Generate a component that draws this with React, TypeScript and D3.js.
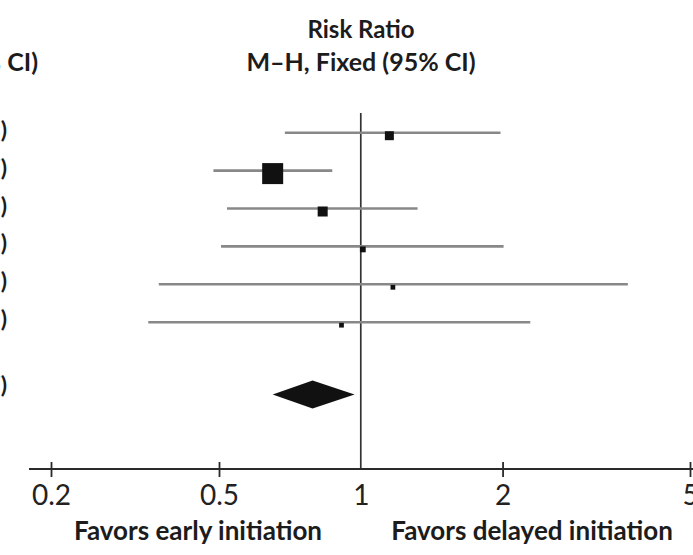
import React, { useRef, useEffect } from "react";
import * as d3 from "d3";

// Study rows (risk ratio, 95% CI, weight %)
const estimates = [1.15, 0.65, 0.83, 1.01, 1.17, 0.91];
const lowerCI = [0.69, 0.485, 0.52, 0.505, 0.36, 0.34];
const upperCI = [1.98, 0.87, 1.32, 2.01, 3.69, 2.29];
const weights = [11.5, 63.0, 14.3, 4.8, 3.2, 3.2];

// Pooled (total) estimate
const totalEstimate = [0.79];
const totalLower = [0.65];
const totalUpper = [0.97];

const tickValues = [0.2, 0.5, 1, 2, 5];
const tickLabels = ["0.2", "0.5", "1", "2", "5"];

const headerLines = ["Risk Ratio", "M\u2013H, Fixed (95% CI)"];
const favorLabels = ["Favors early initiation", "Favors delayed initiation"];

const fmt = (v: number) => d3.format(".2f")(v);

function App() {
    const svgRef = useRef<SVGSVGElement>(null);

    useEffect(() => {
        const w = 693;
        const h = 555;
        const svg = d3.select(svgRef.current)
            .attr("width", w)
            .attr("height", h);
        svg.selectAll("*").remove();

        const font = "Lato, 'Open Sans', sans-serif";
        const textColor = "#1c1c1c";

        // x: log scale, piecewise to follow the printed axis
        const x = d3.scaleLog()
            .domain([0.2, 0.5, 5])
            .range([51, 219, 690]);

        // y: one band per study, the total sits further down
        const y = d3.scaleLinear()
            .domain([0, 5])
            .range([132.7, 322.2]);
        const totalY = 394.5;
        const axisY = 469;

        const size = d3.scaleSqrt()
            .domain([0, 63])
            .range([0, 21]);

        // header
        svg.append("text")
            .attr("x", 361)
            .attr("y", 38)
            .attr("text-anchor", "middle")
            .style("font-family", font)
            .style("font-weight", 700)
            .style("font-size", "24px")
            .style("fill", textColor)
            .text(headerLines[0]);
        svg.append("text")
            .attr("x", 361)
            .attr("y", 71)
            .attr("text-anchor", "middle")
            .style("font-family", font)
            .style("font-weight", 700)
            .style("font-size", "25px")
            .style("fill", textColor)
            .text(headerLines[1]);
        // cut-off header of the numeric column on the left
        svg.append("text")
            .attr("x", 38)
            .attr("y", 71)
            .attr("text-anchor", "end")
            .style("font-family", font)
            .style("font-weight", 700)
            .style("font-size", "25px")
            .style("fill", textColor)
            .text(headerLines[1]);

        // numeric column, mostly outside the picture
        const rowText = estimates.map((d, i) => `${fmt(d)} (${fmt(lowerCI[i])}, ${fmt(upperCI[i])})`);
        svg.selectAll(".rowtext")
            .data(rowText)
            .join("text")
            .attr("class", "rowtext")
            .attr("x", 7)
            .attr("y", (d, i) => y(i) + 5)
            .attr("text-anchor", "end")
            .style("font-family", font)
            .style("font-weight", 700)
            .style("font-size", "23px")
            .style("fill", textColor)
            .text(d => d);
        svg.append("text")
            .attr("x", 7)
            .attr("y", totalY - 2)
            .attr("text-anchor", "end")
            .style("font-family", font)
            .style("font-weight", 700)
            .style("font-size", "23px")
            .style("fill", textColor)
            .text(`${fmt(totalEstimate[0])} (${fmt(totalLower[0])}, ${fmt(totalUpper[0])})`);

        // line of no effect
        svg.append("line")
            .attr("x1", x(1))
            .attr("x2", x(1))
            .attr("y1", 113)
            .attr("y2", axisY)
            .attr("stroke", "#333")
            .attr("stroke-width", 1.7);

        // confidence intervals
        svg.selectAll(".ci")
            .data(estimates)
            .join("line")
            .attr("class", "ci")
            .attr("x1", (d, i) => x(lowerCI[i]))
            .attr("x2", (d, i) => x(upperCI[i]))
            .attr("y1", (d, i) => y(i))
            .attr("y2", (d, i) => y(i))
            .attr("stroke", "#888")
            .attr("stroke-width", 2.6);

        // weighted squares
        svg.selectAll(".box")
            .data(estimates)
            .join("rect")
            .attr("class", "box")
            .attr("x", (d, i) => x(d) - size(weights[i]) / 2)
            .attr("y", (d, i) => y(i) + 3 - size(weights[i]) / 2)
            .attr("width", (d, i) => size(weights[i]))
            .attr("height", (d, i) => size(weights[i]))
            .attr("fill", "#111");

        // pooled diamond
        const diamond = d3.line()([
            [x(totalLower[0]), totalY],
            [x(totalEstimate[0]), totalY - 14],
            [x(totalUpper[0]), totalY],
            [x(totalEstimate[0]), totalY + 14],
        ]) + "Z";
        svg.append("path")
            .attr("d", diamond)
            .attr("fill", "#111");

        // axis
        const xAxis = d3.axisBottom(x)
            .tickValues(tickValues)
            .tickFormat((d, i) => tickLabels[i])
            .tickSizeInner(8)
            .tickSizeOuter(0)
            .tickPadding(12);
        const g = svg.append("g")
            .attr("transform", `translate(0, ${axisY})`)
            .call(xAxis);
        g.select(".domain").remove();
        g.append("line")
            .attr("x1", 29)
            .attr("x2", w)
            .attr("stroke", "#2a2a2a")
            .attr("stroke-width", 2);
        g.selectAll(".tick line")
            .attr("y1", -7)
            .attr("y2", 8)
            .attr("stroke", "#2a2a2a")
            .attr("stroke-width", 1.8)
            .filter((d) => d === 1)
            .remove();
        g.selectAll(".tick text")
            .attr("y", 16)
            .attr("dy", "0.71em")
            .style("font-family", font)
            .style("font-size", "28px")
            .style("fill", "#222");

        // favours labels
        svg.append("text")
            .attr("x", 198)
            .attr("y", 540)
            .attr("text-anchor", "middle")
            .style("font-family", font)
            .style("font-weight", 700)
            .style("font-size", "26px")
            .style("fill", textColor)
            .text(favorLabels[0]);
        svg.append("text")
            .attr("x", 532)
            .attr("y", 540)
            .attr("text-anchor", "middle")
            .style("font-family", font)
            .style("font-weight", 700)
            .style("font-size", "26px")
            .style("fill", textColor)
            .text(favorLabels[1]);
    }, []);

    return (
        <svg ref={svgRef} style={{ position: "absolute", left: 0, top: 0, background: "#fff" }}></svg>
    );
}

export default App;
